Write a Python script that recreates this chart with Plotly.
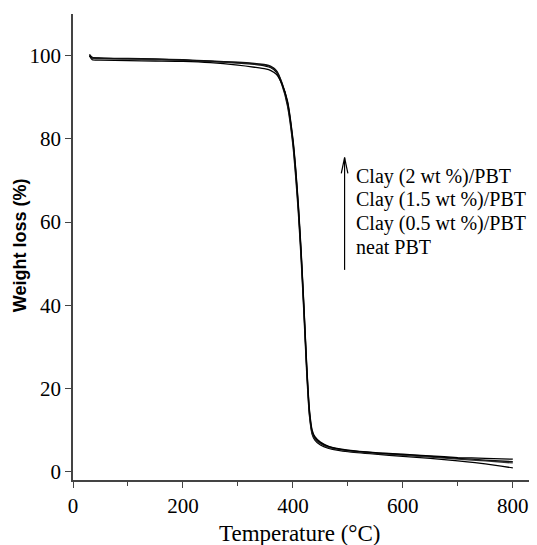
import plotly.graph_objects as go

# Temperature (°C) samples
temp = [30, 35, 50, 100, 150, 200, 250, 300, 330, 350, 360, 370, 380, 390, 400, 405, 410, 415,
        420, 425, 430, 435, 440, 450, 465, 480, 500, 550, 600, 650, 700, 750, 800]

neat_pbt = [100.3, 99.6, 99.4, 99.2, 99.1, 98.9, 98.6, 98.2, 97.9, 97.5, 97.1, 96.0, 93.0, 88.0, 78.5,
            71.0, 62.0, 51.0, 38.0, 24.0, 13.5, 9.0, 7.6, 6.4, 5.6, 5.2, 4.8, 4.2, 3.7, 3.2, 2.6, 1.9, 0.9]
clay_05 = [100.0, 99.4, 99.3, 99.2, 99.1, 98.9, 98.6, 98.3, 98.0, 97.7, 97.3, 96.3, 93.4, 88.6, 79.2,
           72.0, 63.0, 52.0, 39.0, 25.0, 14.0, 9.3, 7.9, 6.7, 5.8, 5.4, 5.0, 4.4, 3.9, 3.5, 3.0, 2.6, 2.1]
clay_15 = [100.1, 99.5, 99.4, 99.3, 99.2, 99.0, 98.7, 98.4, 98.1, 97.8, 97.4, 96.4, 93.5, 88.9, 79.6,
           72.5, 63.5, 52.5, 39.5, 25.5, 14.5, 9.6, 8.1, 6.9, 6.0, 5.5, 5.1, 4.5, 4.1, 3.7, 3.2, 2.8, 2.4]
clay_2 = [99.9, 99.0, 98.9, 98.8, 98.7, 98.6, 98.3, 97.7, 97.2, 96.8, 96.4, 95.5, 93.2, 89.2, 80.0,
          73.0, 64.0, 53.0, 40.0, 26.0, 15.0, 10.0, 8.4, 7.1, 6.1, 5.6, 5.2, 4.6, 4.2, 3.8, 3.4, 3.2, 3.0]

series = [("neat PBT", neat_pbt, "#000000"),
          ("Clay (0.5 wt %)/PBT", clay_05, "#333333"),
          ("Clay (1.5 wt %)/PBT", clay_15, "#111111"),
          ("Clay (2 wt %)/PBT", clay_2, "#000000")]

legend_lines = ["Clay (2 wt %)/PBT", "Clay (1.5 wt %)/PBT", "Clay (0.5 wt %)/PBT", "neat PBT"]
legend_y = [71.0, 65.3, 59.6, 53.9]

fig = go.Figure()
for name, vals, col in series:
    fig.add_trace(go.Scatter(x=temp, y=vals, mode="lines", name=name,
                             line=dict(color=col, width=1.3, shape="spline", smoothing=0.6),
                             showlegend=False))

serif = "Liberation Serif, Times New Roman, serif"

for txt, yv in zip(legend_lines, legend_y):
    fig.add_annotation(x=512, y=yv, text=txt, showarrow=False, xanchor="left", yanchor="middle",
                       font=dict(family=serif, size=20, color="black"))

# arrow
ax_x, ax_y0, ax_y1 = 494, 48.5, 75.5
fig.add_shape(type="line", x0=ax_x, x1=ax_x, y0=ax_y0, y1=ax_y1, line=dict(color="black", width=1.2))
fig.add_shape(type="line", x0=ax_x - 6, x1=ax_x, y0=ax_y1 - 3.8, y1=ax_y1, line=dict(color="black", width=1.2))
fig.add_shape(type="line", x0=ax_x + 6, x1=ax_x, y0=ax_y1 - 3.8, y1=ax_y1, line=dict(color="black", width=1.2))

# axis titles
fig.add_annotation(xref="paper", yref="paper", x=0.489, y=-0.114, text="Temperature (°C)",
                   showarrow=False, xanchor="center", yanchor="middle",
                   font=dict(family=serif, size=23, color="black"))
fig.add_annotation(xref="paper", yref="paper", x=-0.114, y=0.504, text="<b>Weight loss (%)</b>",
                   showarrow=False, xanchor="center", yanchor="middle", textangle=-90,
                   font=dict(family="Liberation Sans, Arial, sans-serif", size=18, color="black"))

fig.update_layout(
    width=529, height=537,
    margin=dict(l=65, r=0, t=6, b=65),
    paper_bgcolor="white", plot_bgcolor="white",
    xaxis=dict(range=[0, 844], tickvals=[0, 200, 400, 600, 800], ticks="outside", ticklen=6,
               tickcolor="#444", showline=True, linecolor="#444", linewidth=1.5, showgrid=False,
               zeroline=False, tickfont=dict(family=serif, size=21, color="black"), automargin=False,
               minor=dict(tickvals=[100, 300, 500, 700], ticks="outside", ticklen=4, tickcolor="#444")),
    yaxis=dict(range=[-2, 110], tickvals=[0, 20, 40, 60, 80, 100], ticks="outside", ticklen=6,
               tickcolor="#444", showline=True, linecolor="#444", linewidth=1.5, showgrid=False,
               zeroline=False, tickfont=dict(family=serif, size=21, color="black"), automargin=False),
)

fig.write_html("out.html")
